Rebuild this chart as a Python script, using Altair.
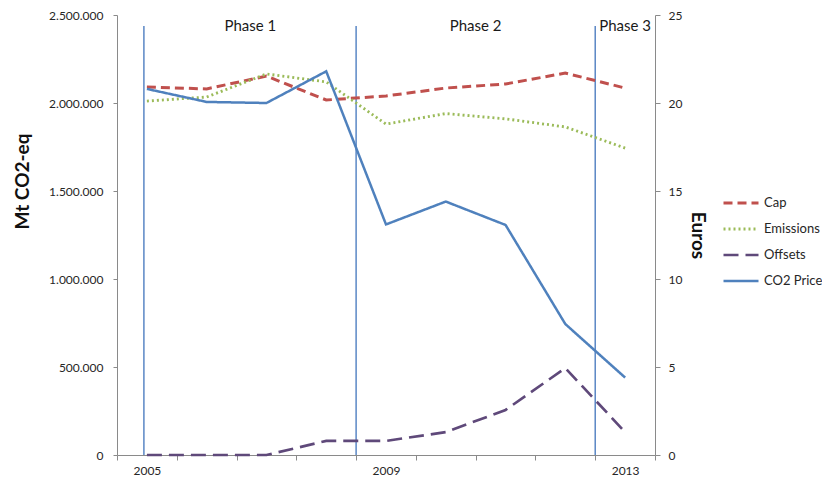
import altair as alt
import pandas as pd

# ---- data ----
years = [2005, 2006, 2007, 2008, 2009, 2010, 2011, 2012, 2013]
cap = [2091000, 2080000, 2153000, 2017000, 2040000, 2085000, 2108000, 2170000, 2085000]
emissions = [2011000, 2034000, 2165000, 2120000, 1880000, 1940000, 1910000, 1864000, 1744000]
offsets = [0, 0, 0, 80000, 80000, 130000, 256000, 494000, 130000]
co2_price = [20.8, 20.06, 20.0, 21.8, 13.1, 14.4, 13.07, 7.44, 4.4]

series_names = ["Cap", "Emissions", "Offsets", "CO2 Price"]
series_colors = ["#C0504D", "#9BBB59", "#5F497A", "#4F81BD"]
series_dashes = [[9, 5], [2, 3], [15, 7], [1, 0]]
series_widths = [3, 2.5, 3, 2.5]

phase_labels = ["Phase 1", "Phase 2", "Phase 3"]
phase_label_x = [2006.73, 2010.5, 2013.0]
phase_bounds = [2004.95, 2008.5, 2012.5]
phase_top = 2437500

x_ticks = [2004.5 + i for i in range(10)]
x_label_years = [2005, 2009, 2013]
left_ticks = [0, 500000, 1000000, 1500000, 2000000, 2500000]
right_ticks = [0, 5, 10, 15, 20, 25]

FONT = "Lato"
TXT = "#262626"
AX = "#8a8a8a"

left_df = pd.DataFrame({
    "year": years * 3,
    "value": cap + emissions + offsets,
    "series": ["Cap"] * 9 + ["Emissions"] * 9 + ["Offsets"] * 9,
})
right_df = pd.DataFrame({"year": years, "price": co2_price, "series": ["CO2 Price"] * 9})
rules_df = pd.DataFrame({"year": phase_bounds, "value": [0] * 3, "top": [phase_top] * 3})
text_df = pd.DataFrame({"year": phase_label_x, "value": [phase_top] * 3, "label": phase_labels})

W, H = 538, 440

x_scale = alt.Scale(domain=[2004.5, 2013.5], nice=False, zero=False)
years_list = ",".join(str(v) for v in x_label_years)
x_axis = alt.Axis(
    values=x_ticks,
    labelExpr=f"indexof([{years_list}], datum.value + 0.5) >= 0 ? toString(datum.value + 0.5) : ''",
    labelOffset=W / 9 / 2,
    labelOverlap=False,
    labelFlush=False,
    title=None,
    grid=False,
    tickSize=5,
    labelPadding=5,
    domainColor=AX,
    tickColor=AX,
    labelColor=TXT,
    labelFont=FONT,
    labelFontSize=12,
)
x_enc = alt.X("year:Q", scale=x_scale, axis=x_axis)

left_axis = alt.Axis(
    values=left_ticks,
    labelExpr="replace(replace(format(datum.value, ','), ',', '.'), ',', '.')",
    title="Mt CO2-eq",
    titleFont=FONT,
    titleFontSize=19,
    titleFontWeight="bold",
    titleColor="#111111",
    titlePadding=16,
    titleY=166,
    grid=False,
    tickSize=4,
    labelPadding=10,
    domainColor=AX,
    tickColor=AX,
    labelColor=TXT,
    labelFont=FONT,
    labelFontSize=12,
)
left_scale = alt.Scale(domain=[0, 2500000], nice=False)
y_left = alt.Y("value:Q", scale=left_scale, axis=left_axis)

right_axis = alt.Axis(
    orient="right",
    values=right_ticks,
    title="Euros",
    titleAngle=90,
    titleFont=FONT,
    titleFontSize=19,
    titleFontWeight="bold",
    titleColor="#111111",
    titlePadding=6,
    grid=False,
    tickSize=5,
    labelPadding=8,
    domainColor=AX,
    tickColor=AX,
    labelColor=TXT,
    labelFont=FONT,
    labelFontSize=12,
)
y_right = alt.Y("price:Q", scale=alt.Scale(domain=[0, 25], nice=False), axis=right_axis)

legend = alt.Legend(
    title=None,
    orient="none",
    legendX=605,
    legendY=169,
    symbolType="stroke",
    symbolSize=1225,
    symbolStrokeWidth=2.5,
    labelFont=FONT,
    labelFontSize=13,
    labelColor=TXT,
    labelOffset=4,
    rowPadding=-1,
    padding=0,
)
color_enc = alt.Color("series:N", scale=alt.Scale(domain=series_names, range=series_colors), legend=legend)
dash_enc = alt.StrokeDash("series:N", scale=alt.Scale(domain=series_names, range=series_dashes), legend=legend)
width_enc = alt.StrokeWidth("series:N", scale=alt.Scale(domain=series_names, range=series_widths), legend=None)

rules = alt.Chart(rules_df).mark_rule(color="#5A87C5", strokeWidth=1.5).encode(
    x=x_enc, y=y_left, y2="top:Q"
)
lines_left = alt.Chart(left_df).mark_line().encode(
    x=x_enc, y=y_left, color=color_enc, strokeDash=dash_enc, strokeWidth=width_enc,
    detail="series:N",
)
texts = alt.Chart(text_df).mark_text(
    font=FONT, fontSize=15, color="#1a1a1a", baseline="middle", align="center"
).encode(x=x_enc, y=y_left, text="label:N")

left_layer = alt.layer(rules, lines_left, texts)

line_right = alt.Chart(right_df).mark_line().encode(
    x=x_enc, y=y_right, color=color_enc, strokeDash=dash_enc, strokeWidth=width_enc,
)

chart = (
    alt.layer(left_layer, line_right)
    .resolve_scale(y="independent")
    .properties(
        width=W,
        height=H,
        background="white",
        padding={"left": 109, "top": 7, "right": 167, "bottom": 28},
        autosize=alt.AutoSizeParams(type="none"),
    )
    .configure_view(stroke=None)
)

chart.save("out.html", embed_options={"renderer": "svg", "actions": False})
